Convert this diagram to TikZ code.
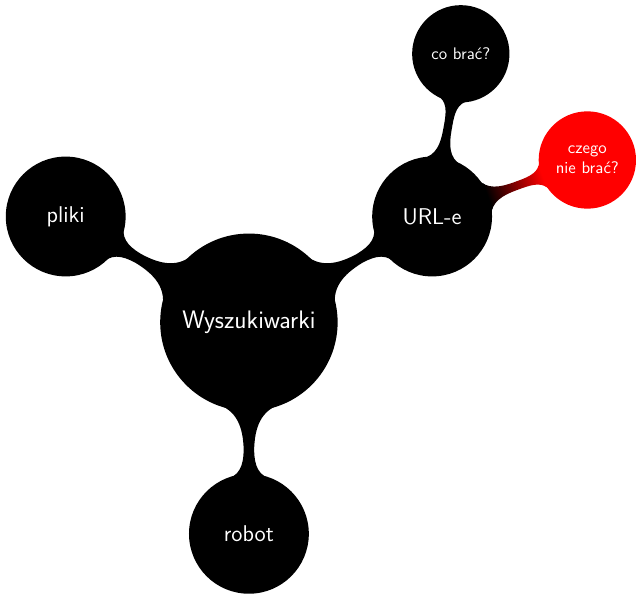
\documentclass[tikz,border=0pt]{standalone}
\usepackage{tikz}
\usetikzlibrary{mindmap}
\renewcommand{\familydefault}{\sfdefault}

\begin{document}
\begin{tikzpicture}[
        mindmap,
        concept color=black,
        text=white,
        every node/.style={concept},
        root concept/.append style={minimum size=3.9cm, text width=3.5cm, font=\fontsize{16}{19}\selectfont},
        level 1 concept/.append style={minimum size=2.62cm, text width=2.3cm, font=\fontsize{14.4}{17}\selectfont},
        level 2 concept/.append style={minimum size=2.12cm, text width=1.8cm, font=\fontsize{10.6}{12.5}\selectfont},
        level 1/.append style={level distance=4.7cm, sibling angle=120},
        level 2/.append style={level distance=3.67cm}
    ]
        \useasboundingbox (-5.53,-6.09) rectangle (8.6,7.16);
        \node[root concept] (search) at (0,0) {Wyszukiwarki}
            [clockwise from=150]
            child { node (files) {pliki} }
            child { node (urls) {URL-e}
                child[grow=80] { node (take) {co brać?} }
                child[grow=20, concept color=red] { node (skip) {czego\\nie brać?} }
            }
            child { node (robot) {robot} };
    \end{tikzpicture}
\end{document}
